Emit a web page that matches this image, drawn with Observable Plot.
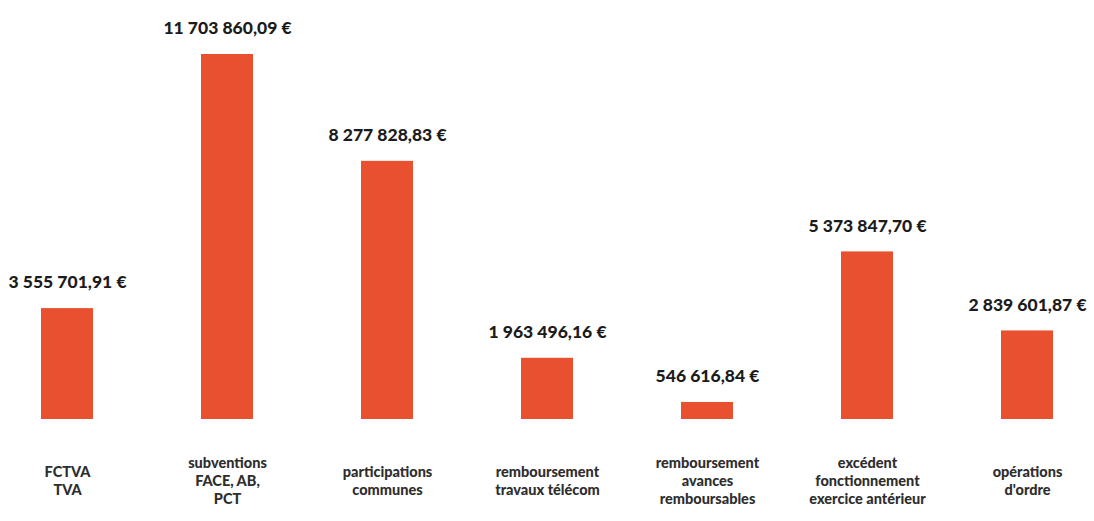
<!DOCTYPE html>
<html>
<head>
<meta charset="utf-8">
<script src="https://cdn.jsdelivr.net/npm/d3@7"></script>
<script src="https://cdn.jsdelivr.net/npm/@observablehq/plot@0.6"></script>
<style>
  html, body { margin: 0; padding: 0; background: #fff; }
  #chart svg { display: block; }
</style>
</head>
<body>
<div id="chart"></div>
<script>
const categories = [
  "FCTVA\nTVA",
  "subventions\nFACE, AB,\nPCT",
  "participations\ncommunes",
  "remboursement\ntravaux télécom",
  "remboursement\navances\nremboursables",
  "excédent\nfonctionnement\nexercice antérieur",
  "opérations\nd'ordre"
];
const values = [3555701.91, 11703860.09, 8277828.83, 1963496.16, 546616.84, 5373847.70, 2839601.87];
const valueLabels = [
  "3 555 701,91 €", "11 703 860,09 €", "8 277 828,83 €", "1 963 496,16 €",
  "546 616,84 €", "5 373 847,70 €", "2 839 601,87 €"
];

const data = categories.map((c, i) => ({category: c, value: values[i], label: valueLabels[i]}));

const chart = Plot.plot({
  width: 1094,
  height: 521,
  marginTop: 54,
  marginBottom: 102,
  marginLeft: 0,
  marginRight: 0,
  style: {fontFamily: "Lato, sans-serif", background: "#fff"},
  x: {domain: categories, paddingInner: 0.677, paddingOuter: 0.24, axis: null},
  y: {domain: [0, 11703860.09], axis: null},
  marks: [
    Plot.barY(data, {x: "category", y: "value", fill: "#E8502F"}),
    Plot.text(data, {
      x: "category", y: "value", text: "label", dy: -26,
      fontSize: 17.5, fontWeight: 900, fill: "#1c1c1c", lineAnchor: "middle",
      style: {letterSpacing: "-0.4px"}
    }),
    Plot.text(data, {
      x: "category", y: 0, text: "category", dy: 61,
      fontSize: 14.5, fontWeight: 900, fill: "#2e2e2e", lineAnchor: "middle", lineHeight: 1.22
    })
  ]
});
document.getElementById("chart").appendChild(chart);
</script>
</body>
</html>
